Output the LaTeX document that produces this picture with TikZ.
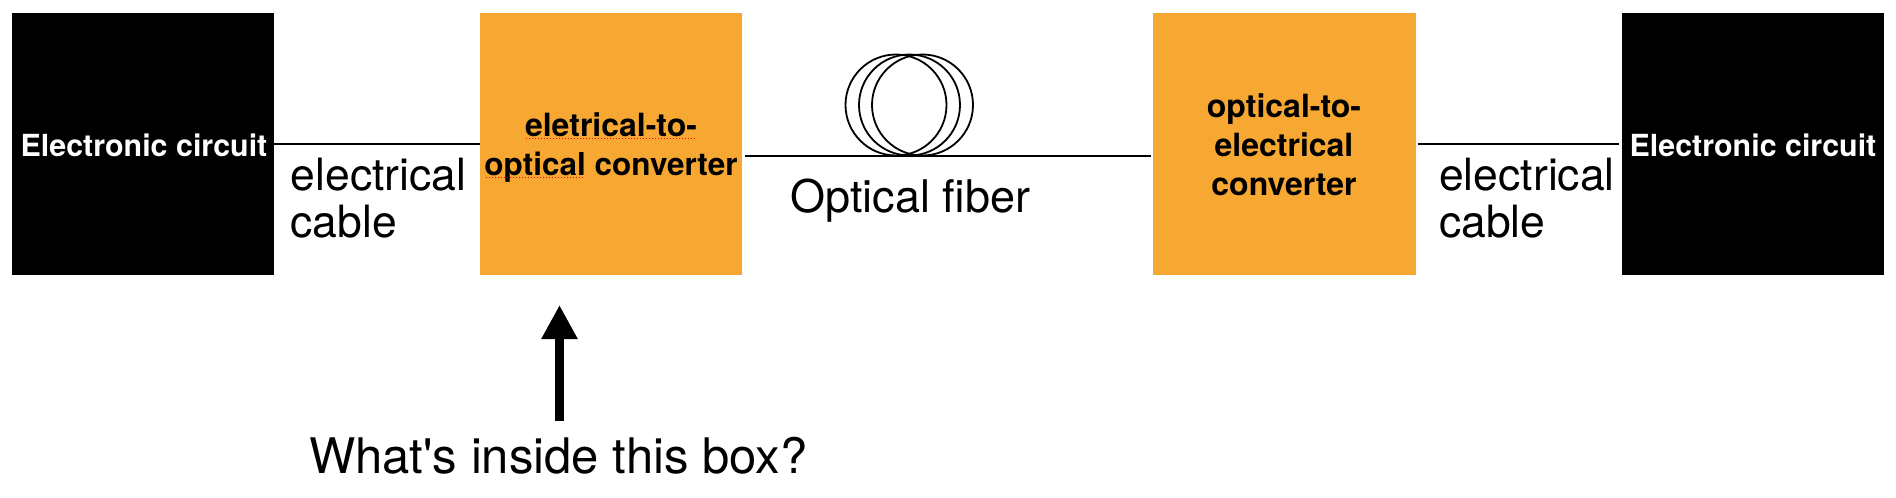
\documentclass[tikz,border=0pt]{standalone}
\usepackage{fontspec}
\setmainfont{TeX Gyre Heros}
\newfontfamily\plainheros{TeX Gyre Heros}
\usetikzlibrary{arrows.meta}
\definecolor{boxorange}{HTML}{F7A833}
\begin{document}
\begin{tikzpicture}[x=1pt,y=-1pt,
  blackbox/.style={fill=black,draw=none,minimum width=262pt,minimum height=262pt,inner sep=0pt,outer sep=0pt},
  orangebox/.style={fill=boxorange,draw=none,minimum width=262.5pt,minimum height=262pt,inner sep=0pt,outer sep=0pt},
  whitelabel/.style={font=\fontsize{30.4}{30.4}\selectfont\bfseries,anchor=base,inner sep=0pt,text=white},
  boldlabel/.style={font=\fontsize{32}{32}\selectfont\bfseries,anchor=base,inner sep=0pt},
  biglabel/.style={font=\fontsize{44.5}{44.5}\selectfont,anchor=base west,inner sep=0pt},
  wire/.style={draw=black,line width=2.2pt},
  coil/.style={draw=black,line width=1.8pt},
  spell/.style={draw=red,line width=1pt,dash pattern=on 1pt off 2pt}]
\useasboundingbox (0,0) rectangle (1896,498);
\fill[white] (0,0) rectangle (1896,498);
\node[blackbox] (b1) at (143,144) {};
\node[orangebox] (o1) at (611,144) {};
\node[orangebox] (o2) at (1284.5,144) {};
\node[blackbox] (b2) at (1753,144) {};
% connectors
\draw[wire] (b1.east) -- (o1.west);
\draw[wire,shorten <=2pt,shorten >=3pt] (o2.east) -- (b2.west);
\coordinate (f1) at (745,155.7);
\coordinate (f2) at (1151,155.7);
\draw[wire] (f1) -- (f2);
% fibre coil
\node[coil,circle,minimum size=101pt,inner sep=0pt] (c1) at (896,105) {};
\node[coil,circle,minimum size=101pt,inner sep=0pt] (c2) at (909.5,105) {};
\node[coil,circle,minimum size=101pt,inner sep=0pt] (c3) at (922.5,105) {};
% box labels
\node[whitelabel] (t1) at (144,156) {Electronic circuit};
\node[whitelabel] (t2) at (1753,156) {Electronic circuit};
\node[boldlabel] (t3) at (611,136) {eletrical-to-};
\node[boldlabel,font=\fontsize{31.5}{31.5}\selectfont\bfseries] (t4) at (611,175) {optical converter};
\node[boldlabel] (t5) at (1284,117.5) {optical-to-};
\node[boldlabel] (t6) at (1284,156.5) {electrical};
\node[boldlabel] (t7) at (1284,195.5) {converter};
% spell-check marks
\coordinate (s1) at (526,138); \coordinate (s2) at (696,138);
\coordinate (s3) at (486,177); \coordinate (s4) at (585,177);
\draw[spell] (s1) -- (s2);
\draw[spell] (s3) -- (s4);
% big labels
\node[biglabel] (e1) at (290.5,190) {electrical};
\node[biglabel] (e2) at (290.5,237) {cable};
\node[biglabel] (e3) at (1439,190) {electrical};
\node[biglabel] (e4) at (1439,237) {cable};
\node[biglabel,font=\fontsize{45}{45}\selectfont] (of) at (790,212) {Optical fiber};
\node[biglabel,font=\fontsize{49}{49}\selectfont] (q) at (309,473) {What{\plainheros\symbol{39}}s inside this box?};
% arrow
\coordinate (a1) at (559.5,421);
\coordinate (a2) at (559.5,305);
\draw[line width=9pt,-{Triangle[length=34pt,width=34pt]}] (a1) -- (a2);
\end{tikzpicture}
\end{document}
